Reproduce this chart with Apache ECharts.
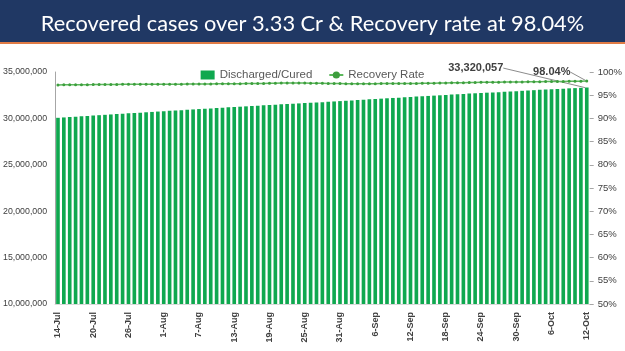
<!DOCTYPE html>
<html><head><meta charset="utf-8">
<script src="https://cdn.jsdelivr.net/npm/echarts@6/dist/echarts.min.js"></script>
<style>html,body{margin:0;padding:0;background:#fff}#c{width:625px;height:351px}</style>
</head><body><div id="c"></div>
<script>
const titleText = 'Recovered cases over 3.33 Cr & Recovery rate at 98.04%';
const dates = [
'14-Jul','15-Jul','16-Jul','17-Jul','18-Jul','19-Jul','20-Jul','21-Jul','22-Jul','23-Jul','24-Jul','25-Jul','26-Jul','27-Jul','28-Jul','29-Jul','30-Jul','31-Jul',
'1-Aug','2-Aug','3-Aug','4-Aug','5-Aug','6-Aug','7-Aug','8-Aug','9-Aug','10-Aug','11-Aug','12-Aug','13-Aug','14-Aug','15-Aug','16-Aug','17-Aug','18-Aug','19-Aug','20-Aug','21-Aug','22-Aug','23-Aug','24-Aug','25-Aug','26-Aug','27-Aug','28-Aug','29-Aug','30-Aug','31-Aug',
'1-Sep','2-Sep','3-Sep','4-Sep','5-Sep','6-Sep','7-Sep','8-Sep','9-Sep','10-Sep','11-Sep','12-Sep','13-Sep','14-Sep','15-Sep','16-Sep','17-Sep','18-Sep','19-Sep','20-Sep','21-Sep','22-Sep','23-Sep','24-Sep','25-Sep','26-Sep','27-Sep','28-Sep','29-Sep','30-Sep',
'1-Oct','2-Oct','3-Oct','4-Oct','5-Oct','6-Oct','7-Oct','8-Oct','9-Oct','10-Oct','11-Oct','12-Oct'];
const discharged = [
30063720,30104720,30143850,30186757,30225100,30268480,30310200,30346000,30385500,30426300,30463000,30504100,30543138,30586000,30619600,30659000,30696200,30737300,
30774400,30815200,30852000,30885100,30925300,30966800,31007600,31040300,31080000,31115300,31155900,31193200,31225500,31261900,31298700,31338000,31374000,31410000,31445000,31481000,31515800,31550400,31580200,31615200,31648200,31680300,31715000,31749600,31788000,31826000,31864000,
31899700,31937800,31977000,32014400,32050400,32088100,32128300,32168400,32202500,32236300,32274900,32310100,32350000,32388300,32419800,32454400,32489500,32525800,32563600,32602300,32641600,32673700,32706700,32739000,32771800,32801300,32830400,32864800,32893600,32938000,
32972200,33005700,33040800,33076100,33111500,33142600,33175400,33204800,33238900,33262800,33292500,33320057];
const recoveryRate = [
97.22,97.23,97.24,97.25,97.26,97.27,97.28,97.30,97.31,97.31,97.33,97.34,97.35,97.36,97.36,97.36,97.36,97.37,
97.37,97.37,97.38,97.38,97.39,97.40,97.40,97.42,97.43,97.45,97.46,97.46,97.46,97.48,97.51,97.52,97.53,97.54,97.57,97.60,97.62,97.63,97.64,97.65,97.63,97.60,97.57,97.55,97.53,97.52,97.51,
97.48,97.48,97.49,97.48,97.48,97.49,97.50,97.51,97.51,97.51,97.51,97.51,97.53,97.55,97.56,97.57,97.61,97.65,97.67,97.68,97.70,97.73,97.75,97.77,97.78,97.80,97.81,97.83,97.85,97.86,
97.87,97.88,97.89,97.91,97.93,97.94,97.96,97.97,97.99,98.00,98.01,98.04];
const leftTicks = {min: 10000000, max: 35000000, interval: 5000000};
const rightTicks = {min: 50, max: 100, interval: 5};

const last = discharged.length - 1;
const annFont = {fontFamily: 'Liberation Sans', fontWeight: 'bold', fontSize: 11, color: '#404040'};
const barData = discharged.map((v, i) => i === last ? {
  value: v,
  label: Object.assign({show: true, position: 'top', formatter: '33,320,057'}, annFont),
  labelLine: {show: true, lineStyle: {color: '#8c8c8c', width: 1}}
} : v);
const lineData = recoveryRate.map((v, i) => i === last ? {
  value: v,
  label: Object.assign({show: true, position: 'top', formatter: '98.04%'}, annFont),
  labelLine: {show: true, lineStyle: {color: '#8c8c8c', width: 1}}
} : v);

const chart = echarts.init(document.getElementById('c'), null, {renderer: 'canvas'});
chart.setOption({
  animation: false,
  backgroundColor: '#ffffff',
  graphic: [
    {type: 'rect', left: 0, top: 0, shape: {width: 625, height: 42}, style: {fill: '#203864'}, z: 0},
    {type: 'rect', left: 0, top: 42, shape: {width: 625, height: 2}, style: {fill: '#e07b45'}, z: 0}
  ],
  title: {
    text: titleText, left: 'center', top: 8,
    textStyle: {color: '#ffffff', fontFamily: 'Lato', fontWeight: 'normal', fontSize: 21.8}
  },
  legend: {
    top: 64, left: 'center', itemGap: 16, itemWidth: 14, itemHeight: 9,
    textStyle: {color: '#595959', fontFamily: 'Liberation Sans', fontSize: 11.5},
    data: [{name: 'Discharged/Cured', icon: 'rect'}, {name: 'Recovery Rate'}]
  },
  grid: {left: 54, right: 33, top: 72, bottom: 47, containLabel: false},
  xAxis: {
    type: 'category', data: dates, boundaryGap: true,
    axisLine: {show: true, lineStyle: {color: '#d9d9d9'}},
    axisTick: {show: false},
    axisLabel: {interval: 5, rotate: 90, margin: 8, color: '#404040', fontWeight: 'bold', fontSize: 9, fontFamily: 'Liberation Sans'}
  },
  yAxis: [
    {type: 'value', min: leftTicks.min, max: leftTicks.max, interval: leftTicks.interval,
     splitLine: {show: false},
     axisLine: {show: true, lineStyle: {color: '#a6a6a6'}},
     axisTick: {show: false},
     axisLabel: {margin: 8, color: '#404040', fontSize: 8.8, fontFamily: 'Liberation Sans',
       formatter: v => v.toLocaleString('en-US')}},
    {type: 'value', min: rightTicks.min, max: rightTicks.max, interval: rightTicks.interval,
     splitLine: {show: false},
     axisLine: {show: false},
     axisTick: {show: true, length: 4, lineStyle: {color: '#a6a6a6'}},
     axisLabel: {margin: 8, color: '#404040', fontSize: 9.5, fontFamily: 'Liberation Sans', formatter: '{value}%'}}
  ],
  series: [
    {name: 'Discharged/Cured', type: 'bar', data: barData, barWidth: '62%',
     itemStyle: {color: '#0fa84f'}, labelLayout: {dx: -111, dy: -9}, z: 2},
    {name: 'Recovery Rate', type: 'line', yAxisIndex: 1, data: lineData,
     symbol: 'circle', symbolSize: 3, showSymbol: true,
     lineStyle: {color: '#5cb85c', width: 1.5}, itemStyle: {color: '#3d9e3d'},
     labelLayout: {dx: -35, dy: 3}, z: 3}
  ]
});
</script></body></html>
